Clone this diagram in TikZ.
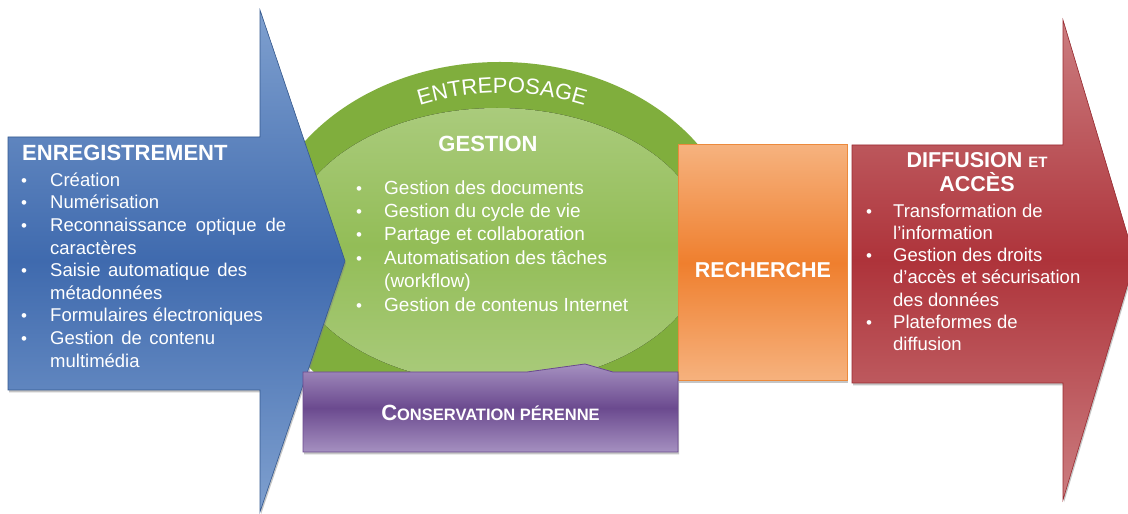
\documentclass[tikz,border=0pt]{standalone}
\usepackage{fontspec}
\setmainfont{Liberation Sans}
\usetikzlibrary{decorations.text,shadows}
\definecolor{gOuter}{HTML}{80AE3D}
\definecolor{gInTop}{HTML}{AACB7C}
\definecolor{gInMid}{HTML}{93BD57}
\definecolor{bTop}{HTML}{7FA0CF}
\definecolor{bMid}{HTML}{3F6AAE}
\definecolor{bEdge}{HTML}{35598F}
\definecolor{oTop}{HTML}{F6B27E}
\definecolor{oMid}{HTML}{EF7F2E}
\definecolor{oEdge}{HTML}{EC8A3C}
\definecolor{rTop}{HTML}{CB7D80}
\definecolor{rMid}{HTML}{AE333A}
\definecolor{rEdge}{HTML}{9A2A30}
\definecolor{pTop}{HTML}{A590C0}
\definecolor{pMid}{HTML}{6B4A8F}
\definecolor{pEdge}{HTML}{6A4A8E}
\newcommand\bul{{\fontsize{17}{17}\selectfont\textbullet}}
\newcommand\lfont{\fontsize{18.5}{22.6}\selectfont}
\newcommand\gfont{\fontsize{19}{23.4}\selectfont}
\newcommand\rfont{\fontsize{18.5}{22.2}\selectfont}
\begin{document}
\begin{tikzpicture}[x=1pt,y=1pt,
  hd/.style={inner sep=0pt, text=white, font=\fontsize{22}{22}\selectfont\bfseries},
  lst/.style={inner sep=0pt, text=white, anchor=north west},
  shad/.style={drop shadow={shadow xshift=1pt, shadow yshift=-2.5pt, opacity=.45}}]
\clip (0,0) rectangle (1128,514);
\fill[white] (0,0) rectangle (1128,514);
% green dome
\fill[gOuter] (500,262) ellipse [x radius=240pt, y radius=190pt];
\fill[top color=gInTop, bottom color=gInTop, middle color=gInMid]
  (497,268) ellipse [x radius=210pt, y radius=138pt];
% ENTREPOSAGE along arc
\path[decorate, decoration={text along path, text align=center, text color=white,
  text={|\fontsize{22}{22}\selectfont|ENTREPOSAGE}}]
  (306.13,339.87) arc [start angle=135, end angle=45, radius=277pt];
% blue arrow
\path[shad, draw=bEdge, line width=.6pt, top color=bTop, bottom color=bTop, middle color=bMid]
  (8,377) -- (260,377) -- (260,504) -- (345,253) -- (260,2) -- (260,124) -- (8,124) -- cycle;
% orange box
\path[shad, draw=oEdge, line width=1pt, top color=oTop, bottom color=oTop, middle color=oMid]
  (678,133) rectangle (847,369);
% purple box
\path[shad, draw=pEdge, line width=.8pt, top color=pTop, bottom color=pTop, middle color=pMid]
  (303,62) -- (303,142) -- (527,142) -- (585,150) -- (613,142) -- (678,142) -- (678,62) -- cycle;
% red arrow
\path[shad, draw=rEdge, line width=.6pt, top color=rTop, bottom color=rTop, middle color=rMid]
  (852,131) -- (1063,131) -- (1063,14) -- (1135,254) -- (1063,494) -- (1063,369) -- (852,369) -- cycle;
% texts
\node[hd, anchor=west] (enrtitle) at (22,361) {ENREGISTREMENT};
\node[lst, font=\lfont] (enrlist) at (21,343.8) {\begin{tabular}{@{}p{29pt}@{}l@{}}
\bul & Création\\
\bul & Numérisation\\
\bul & \makebox[236pt][s]{Reconnaissance optique de}\\
 & caractères\\
\bul & \makebox[197pt][s]{Saisie automatique des}\\
 & métadonnées\\
\bul & Formulaires électroniques\\
\bul & \makebox[165pt][s]{Gestion de contenu}\\
 & multimédia
\end{tabular}};
\node[hd] (gestitle) at (488,370.5) {GESTION};
\node[lst, font=\gfont] (geslist) at (356,336.4) {\begin{tabular}{@{}p{28pt}@{}l@{}}
\bul & Gestion des documents\\
\bul & Gestion du cycle de vie\\
\bul & Partage et collaboration\\
\bul & Automatisation des tâches\\
 & (workflow)\\
\bul & Gestion de contenus Internet
\end{tabular}};
\node[hd, font=\fontsize{21.5}{21.5}\selectfont\bfseries] (rech) at (763,244) {RECHERCHE};
\node[hd, anchor=base] (cons) at (490.5,93) {{\fontsize{22}{22}\selectfont C}{\fontsize{16.5}{16.5}\selectfont ONSERVATION PÉRENNE}};
\node[hd, anchor=base, font=\fontsize{21.5}{21.5}\selectfont\bfseries] (difftitle) at (977,346) {DIFFUSION {\fontsize{15}{15}\selectfont ET}};
\node[hd, anchor=base, font=\fontsize{21.5}{21.5}\selectfont\bfseries] (acces) at (977,322) {ACCÈS};
\node[lst, font=\rfont] (difflist) at (866,312.5) {\begin{tabular}{@{}p{27pt}@{}l@{}}
\bul & Transformation de\\
 & l'information\\
\bul & Gestion des droits\\
 & d'accès et sécurisation\\
 & des données\\
\bul & Plateformes de\\
 & diffusion
\end{tabular}};
\end{tikzpicture}
\end{document}
